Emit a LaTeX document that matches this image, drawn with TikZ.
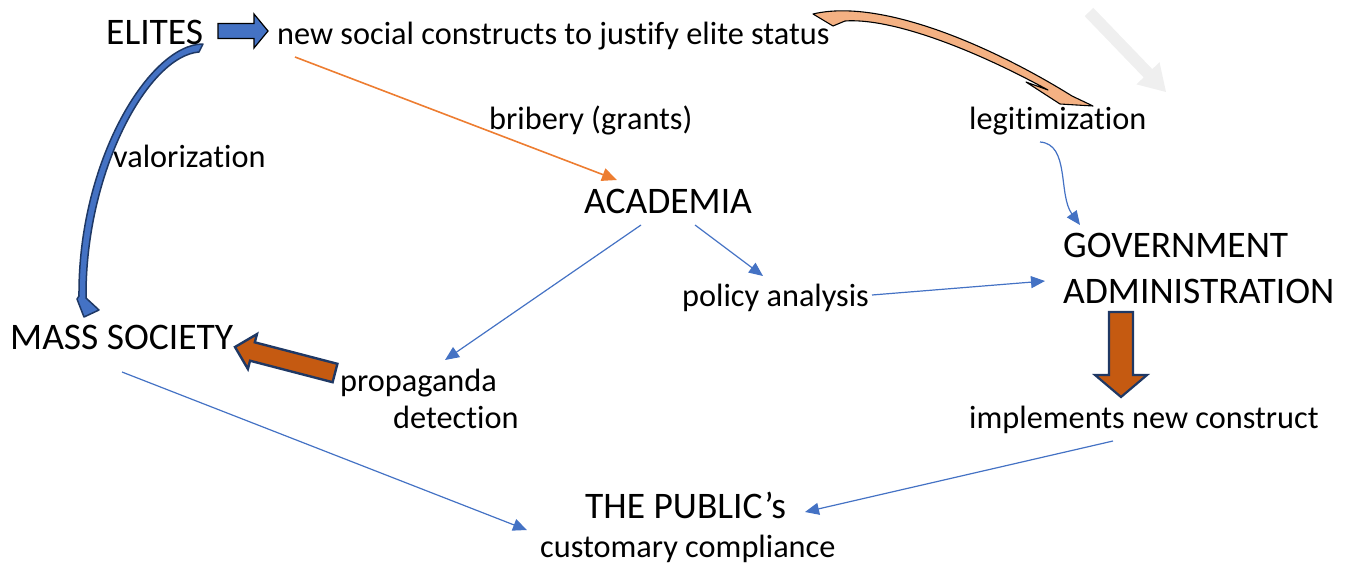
\documentclass[tikz,border=0pt]{standalone}
\usepackage{fontspec}
\setmainfont{Carlito}[Ligatures={NoCommon}]
\usetikzlibrary{arrows.meta,calc}

\definecolor{linkblue}{HTML}{4472C4}
\definecolor{navy}{HTML}{1F3864}
\definecolor{bribe}{HTML}{ED7D31}
\definecolor{rust}{HTML}{C55A11}
\definecolor{peach}{HTML}{F4B183}
\definecolor{ghost}{HTML}{EFEFEF}

% Block arrow from tail centre #2 to tip #3:
% #1 style, #4 half body width, #5 half head width, #6 head length
\newcommand\drawblockarrow[6]{%
  \path (#2) coordinate (ba-t) (#3) coordinate (ba-h);
  \path ($(ba-h)!#6!(ba-t)$) coordinate (ba-n);
  \filldraw[#1] ($(ba-t)!#4!90:(ba-h)$) -- ($(ba-n)!#4!-90:(ba-t)$)
    -- ($(ba-n)!#5!-90:(ba-t)$) -- (ba-h) -- ($(ba-n)!#5!90:(ba-t)$)
    -- ($(ba-n)!#4!90:(ba-t)$) -- ($(ba-t)!#4!-90:(ba-h)$) -- cycle;
}

\tikzset{
  big/.style={anchor=base west, inner sep=0pt, font=\fontsize{37.5}{42}\selectfont},
  small/.style={anchor=base west, inner sep=0pt, font=\fontsize{32.3}{38}\selectfont},
  conn/.style={draw=linkblue, line width=1.2pt, -{Triangle[length=14pt,width=12pt]}},
  bribeline/.style={draw=bribe, line width=1.6pt, -{Triangle[length=15pt,width=13pt]}},
}

\begin{document}
\begin{tikzpicture}[x=1pt,y=-1pt]
\useasboundingbox (0,0) rectangle (1348,565);

% labels
\node[big]   (elites)   at (106,44)  {ELITES};
\node[small] (claims)   at (277,44)  {new social constructs to justify elite status};
\node[small] (bribery)  at (489,129) {bribery (grants)};
\node[big]   (academia) at (584,213) {ACADEMIA};
\node[small] (legit)    at (969,129) {legitimization};
\node[small] (valor)    at (113,167) {valorization};
\node[big]   (govA)     at (1063,257) {GOVERNMENT};
\node[big]   (govB)     at (1063,303) {ADMINISTRATION};
\node[small] (policy)   at (682,306) {policy analysis};
\node[big]   (mass)     at (10,349)  {MASS SOCIETY};
\node[small] (prop)     at (340,391) {propaganda};
\node[small] (detect)   at (393,428) {detection};
\node[small] (impl)     at (969,428) {implements new construct};
\node[big]   (public)   at (585,518) {THE PUBLIC’s};
\node[small] (compl)    at (540,557) {customary compliance};

% thin connectors
\draw[bribeline] ($(claims.base west)+(18,13)$) -- ($(academia.base west)+(33,-33)$);
\draw[conn] ($(academia.base west)+(57,12)$) -- ($(prop.base west)+(105,-31)$);
\draw[conn] ($(academia.base west)+(111,12)$) -- ($(policy.base west)+(81,-30)$);
\draw[conn] ($(policy.base west)+(190,-11)$) -- ($(govB.base west)+(-18,-22)$);
\draw[conn] ($(legit.base west)+(71,13)$) .. controls +(30,2) and +(-22,-30) .. ($(govA.base west)+(17,-32)$);
\draw[conn] ($(impl.base west)+(144,13)$) -- ($(public.base west)+(220,-6)$);
\draw[conn] ($(mass.base west)+(112,23)$) -- ($(compl.base west)+(-13,-27)$);

% block arrows
\drawblockarrow{fill=linkblue, draw=black, line width=1.2pt}
  {$(elites.base west)+(112,-13)$}{$(claims.base west)+(-9,-13)$}{7.5pt}{17pt}{14pt}
\drawblockarrow{fill=rust, draw=navy, line width=2.4pt, line join=miter}
  {$(prop.base west)+(-5,-18)$}{$(mass.base west)+(225,-2)$}{9.5pt}{18pt}{18pt}
\drawblockarrow{fill=rust, draw=navy, line width=2.2pt, line join=miter}
  {$(govB.base west)+(58,9)$}{$(impl.base west)+(152,-31)$}{12pt}{26pt}{22pt}
\coordinate (ghost-tail) at (1089,12);
\coordinate (ghost-tip)  at (1166,92);
\drawblockarrow{fill=ghost, draw=none}{ghost-tail}{ghost-tip}{6pt}{16pt}{26pt}

% curved arrow: elite status -> legitimization
\filldraw[fill=peach, draw=black, line width=1.1pt, line join=round]
  (813,14) .. controls (880,-2) and (990,45) .. (1072,96) -- (1093,106)
  -- (1060,104) -- (1026,82) -- (1048,90)
  .. controls (960,42) and (885,18) .. (845,21) -- (833,26) -- cycle;

% curved arrow: elites -> mass society
\filldraw[fill=linkblue, draw=navy, line width=1.5pt, line join=round]
  (203,44) .. controls (150,44) and (78,160) .. (79,296) -- (77,299)
  -- (84,317) -- (99,310) -- (86,298)
  .. controls (85,172) and (148,56) .. (199,52) -- cycle;
\end{tikzpicture}
\end{document}
